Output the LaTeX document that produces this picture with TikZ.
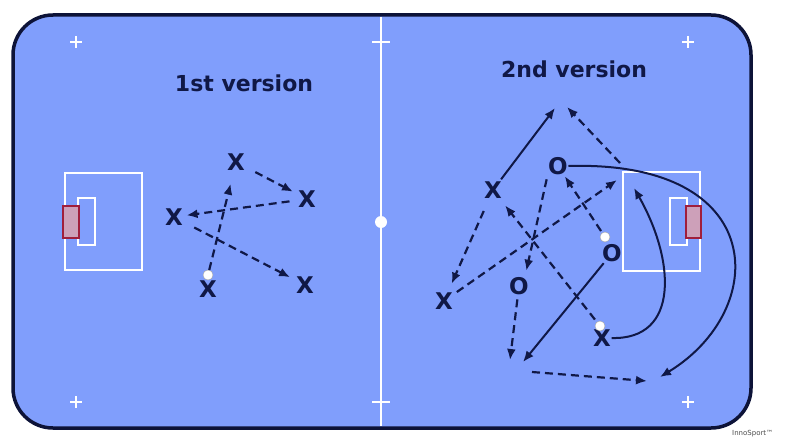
\documentclass[tikz,border=0pt]{standalone}
\usepackage{fontspec}
\setmainfont{DejaVu Sans}
\usetikzlibrary{positioning,arrows.meta}

\definecolor{court}{RGB}{128,158,252}
\definecolor{ink}{RGB}{16,24,70}
\definecolor{goalred}{RGB}{160,30,60}
\definecolor{goalfill}{RGB}{205,160,185}

\begin{document}
\begin{tikzpicture}[x=1pt,y=-1pt,>={Latex[length=11pt,width=9pt]},
    player/.style={text=ink,font=\fontsize{23}{23}\selectfont\bfseries,inner sep=0.5pt},
    title/.style={text=ink,font=\fontsize{22}{22}\selectfont\bfseries},
    ball/.style={circle,draw=gray!70,fill=white,inner sep=0pt,minimum size=10pt},
    pass/.style={->,ink,line width=2.2pt,dash pattern=on 8pt off 5pt},
    run/.style={->,ink,line width=2pt},
    chalk/.style={white,line width=1.6pt}]
    \useasboundingbox (0,0) rectangle (799,441);
    \fill[white] (0,0) rectangle (799,441);

    % court
    \draw[ink!80!black,line width=3.5pt,fill=court,rounded corners=40pt] (13,15) rectangle (751,428);
    \draw[chalk] (381,17) -- (381,426);
    \fill[white] (381,222) circle (6pt);
    \draw[chalk,line width=1.2pt] (372,42) -- (390,42);
    \draw[chalk,line width=1.2pt] (372,402) -- (390,402);
    \draw[chalk,line width=1.2pt] (70,42) -- (82,42) (76,36) -- (76,48);
    \draw[chalk,line width=1.2pt] (70,402) -- (82,402) (76,396) -- (76,408);
    \draw[chalk,line width=1.2pt] (682,42) -- (694,42) (688,36) -- (688,48);
    \draw[chalk,line width=1.2pt] (682,402) -- (694,402) (688,396) -- (688,408);

    % goals
    \draw[chalk] (65,173) rectangle (142,270);
    \draw[chalk] (78,198) rectangle (95,245);
    \draw[goalred,line width=1.8pt,fill=goalfill] (63,206) rectangle (79,238);
    \draw[chalk] (623,172) rectangle (700,271);
    \draw[chalk] (670,198) rectangle (687,245);
    \draw[goalred,line width=1.8pt,fill=goalfill] (686,206) rectangle (701,238);

    \node[title] at (244,83) (t1) {1st version};
    \node[title] at (574,69) (t2) {2nd version};

    % 1st version
    \node[player] at (236,162) (a1) {X};
    \node[player] at (307,199) (a2) {X};
    \node[player] at (174,217) (a3) {X};
    \node[player] at (208,289) (a4) {X};
    \node[player] at (305,285) (a5) {X};
    \node[ball] at (208,275) (b1) {};

    \draw[pass,shorten >=13pt] (b1) -- (a1);
    \draw[pass,shorten <=11pt,shorten >=5pt] (a1) -- (a2);
    \draw[pass,shorten <=8pt,shorten >=3pt] (a2) -- (a3);
    \draw[pass,shorten <=12pt,shorten >=6pt] (a3) -- (a5);

    % 2nd version
    \node[player] at (493,190) (c1) {X};
    \node[player] at (558,166) (c2) {O};
    \node[player] at (612,253) (c3) {O};
    \node[player] at (519,286) (c4) {O};
    \node[player] at (444,301) (c5) {X};
    \node[player] at (602,338) (c6) {X};
    \node[ball] at (605,237) (b2) {};
    \node[ball] at (600,326) (b3) {};

    \coordinate (p1) at (555,108);
    \coordinate (p2) at (567,107);
    \coordinate (p3) at (620,163);
    \coordinate (p4) at (617,180);
    \coordinate (p5) at (523,362);
    \coordinate (p6) at (510,360);
    \coordinate (p7) at (647,381);
    \coordinate (p8) at (532,372);
    \coordinate (p9) at (660,377);
    \coordinate (p10) at (634,188);

    \draw[run,shorten <=2pt] (c1) -- (p1);
    \draw[pass] (p3) -- (p2);
    \draw[pass,shorten <=4pt,shorten >=6pt] (c2.south west) -- ([xshift=6pt]c4.north);
    \draw[pass,shorten <=13pt,shorten >=9pt] (c1) -- (c5);
    \draw[pass,shorten <=4pt] (c5) -- (p4);
    \draw[pass,shorten <=2pt,shorten >=1pt] (b2) -- (c2);
    \draw[pass,shorten <=3pt,shorten >=8pt] (b3) -- (c1);
    \draw[run,shorten <=1pt] (c3) -- (p5);
    \draw[pass,shorten <=4pt] (c4) -- (p6);
    \draw[pass] (p8) -- (p7);
    \draw[run] (c2.east) .. controls (770,160) and (770,310) .. (p9);
    \draw[run] (c6.east) .. controls (680,340) and (675,260) .. (p10);

    \node[anchor=west,text=gray!60!black,font=\fontsize{7}{7}\selectfont,inner sep=0pt] at (732,434) (mark) {InnoSport™};
\end{tikzpicture}
\end{document}
